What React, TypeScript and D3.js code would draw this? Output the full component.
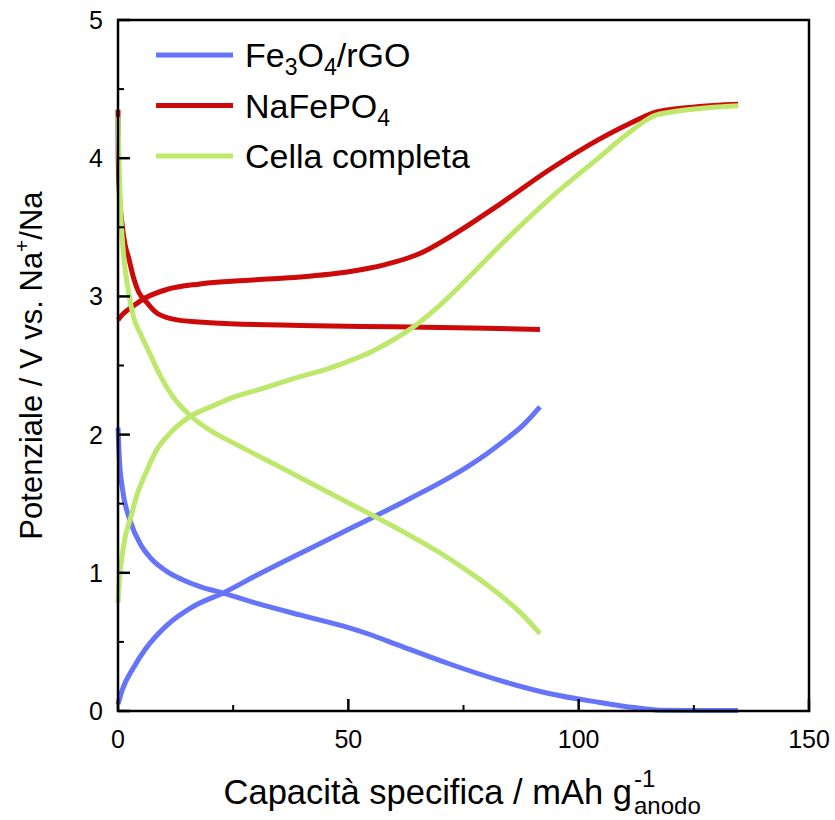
import React from "react";
import * as d3 from "d3";

const W = 835, H = 820;
const X0 = 118, X1 = 809, Y0 = 711, Y1 = 20;

const xDomain = [0, 150];
const yDomain = [0, 5];
const xMajor = [0, 50, 100, 150];
const yMajor = [0, 1, 2, 3, 4, 5];
const xMinorStep = 25;
const yMinorStep = 0.5;

const seriesNames = ["Fe3O4/rGO", "NaFePO4", "Cella completa"];
const colors = ["#6574f8", "#cc0a0a", "#bde86c"];

// Fe3O4/rGO
const feDis: [number, number][] = [
  [0, 2.05], [0.3, 1.82], [1, 1.6], [2.6, 1.38], [5, 1.2], [7, 1.11], [10.6, 1.01],
  [14, 0.95], [17.8, 0.9], [23.2, 0.85], [30, 0.78], [39.5, 0.695], [45, 0.648],
  [50.4, 0.6], [55, 0.55], [61, 0.475], [72, 0.34], [83, 0.22], [93.8, 0.125],
  [104.6, 0.062], [112, 0.025], [117.6, 0.006], [125, 0.004], [134.6, 0.004],
];
const feCh: [number, number][] = [
  [0, 0.05], [1, 0.16], [3.3, 0.31], [6, 0.45], [10.6, 0.62], [16, 0.75], [23.2, 0.86],
  [30, 0.98], [39.5, 1.14], [50.4, 1.32], [61.2, 1.5], [72, 1.69], [76, 1.77],
  [80, 1.86], [84, 1.96], [88, 2.07], [91.6, 2.2],
];
// NaFePO4
const nfpCh: [number, number][] = [
  [0, 2.83], [1, 2.87], [3.3, 2.93], [6, 2.99], [10.6, 3.05], [17.8, 3.09], [30, 3.12],
  [39.5, 3.14], [50.4, 3.18], [58, 3.23], [65.5, 3.31], [72, 3.43], [83, 3.67],
  [93.8, 3.92], [104.6, 4.14], [111, 4.25], [117.6, 4.34], [134.6, 4.39],
];
const nfpDis: [number, number][] = [
  [0, 4.35], [0.05, 4.0], [0.3, 3.75], [0.8, 3.55], [1.5, 3.38], [2.3, 3.28], [3.5, 3.12],
  [4.5, 3.03], [5.9, 2.97], [8.4, 2.88], [12.8, 2.83], [20, 2.81], [39.5, 2.79],
  [60, 2.78], [80, 2.77], [91.6, 2.76],
];
// Cella completa
const cellCh: [number, number][] = [
  [0, 0.78], [0.3, 0.95], [0.8, 1.1], [1.5, 1.25], [2.6, 1.38], [4, 1.55], [6, 1.72],
  [8.4, 1.89], [11, 2.0], [15.6, 2.13], [20, 2.2], [25, 2.27], [32, 2.34], [39.5, 2.42],
  [45, 2.47], [50.4, 2.535], [55, 2.6], [60, 2.69], [65, 2.8], [70, 2.94], [75, 3.1],
  [83, 3.37], [93.8, 3.71], [104.6, 4.01], [110, 4.16], [117.6, 4.32], [134.6, 4.38],
];
const cellDis: [number, number][] = [
  [0, 4.3], [0.2, 4.0], [0.6, 3.6], [1.1, 3.34], [2.2, 3.05], [3.3, 2.86], [5, 2.72],
  [7, 2.58], [9.1, 2.43], [12, 2.27], [15.6, 2.14], [20, 2.03], [25, 1.94], [32, 1.82],
  [39.5, 1.69], [50.4, 1.5], [61.2, 1.31], [72, 1.1], [76, 1.01], [80, 0.915],
  [84, 0.81], [88, 0.69], [91.6, 0.56],
];

const curves: { data: [number, number][]; series: number }[] = [
  { data: feDis, series: 0 },
  { data: feCh, series: 0 },
  { data: nfpCh, series: 1 },
  { data: nfpDis, series: 1 },
  { data: cellCh, series: 2 },
  { data: cellDis, series: 2 },
];

export default function App() {
  const x = d3.scaleLinear().domain(xDomain).range([X0, X1]);
  const y = d3.scaleLinear().domain(yDomain).range([Y0, Y1]);
  const line = d3
    .line<[number, number]>()
    .x((d) => x(d[0]))
    .y((d) => y(d[1]))
    .curve(d3.curveMonotoneX);

  const xMinor = d3.range(xDomain[0], xDomain[1] + 0.001, xMinorStep).filter((v) => !xMajor.includes(v));
  const yMinor = d3.range(yDomain[0], yDomain[1] + 0.001, yMinorStep).filter((v) => !yMajor.includes(v));
  const font = "Liberation Sans, Arial, sans-serif";

  return (
    <svg width={W} height={H} style={{ position: "absolute", left: 0, top: 0, background: "#fff" }} fontFamily={font}>
      {curves.map((c, i) => (
        <path key={i} d={line(c.data) || ""} fill="none" stroke={colors[c.series]} strokeWidth={5} strokeLinejoin="round" />
      ))}
      {/* frame */}
      <rect x={X0} y={Y1} width={X1 - X0} height={Y0 - Y1} fill="none" stroke="#000" strokeWidth={2.5} />
      {/* ticks */}
      {xMajor.map((v) => (
        <line key={"xM" + v} x1={x(v)} x2={x(v)} y1={Y0} y2={Y0 - 12} stroke="#000" strokeWidth={2.5} />
      ))}
      {xMinor.map((v) => (
        <line key={"xm" + v} x1={x(v)} x2={x(v)} y1={Y0} y2={Y0 - 6} stroke="#000" strokeWidth={2} />
      ))}
      {yMajor.map((v) => (
        <line key={"yM" + v} x1={X0} x2={X0 + 12} y1={y(v)} y2={y(v)} stroke="#000" strokeWidth={2.5} />
      ))}
      {yMinor.map((v) => (
        <line key={"ym" + v} x1={X0} x2={X0 + 6} y1={y(v)} y2={y(v)} stroke="#000" strokeWidth={2} />
      ))}
      {/* tick labels */}
      {xMajor.map((v) => (
        <text key={"xl" + v} x={x(v)} y={748} fontSize={25} textAnchor="middle" fill="#000">{v}</text>
      ))}
      {yMajor.map((v) => (
        <text key={"yl" + v} x={103} y={y(v) + 9} fontSize={25} textAnchor="end" fill="#000">{v}</text>
      ))}
      {/* axis titles */}
      <text transform={`translate(42,${(Y0 + Y1) / 2}) rotate(-90)`} textAnchor="middle" fontSize={31} fill="#000">
        Potenziale / V vs. Na<tspan dy={-13} fontSize={21}>+</tspan><tspan dy={13}>/Na</tspan>
      </text>
      <text x={632} y={804} textAnchor="end" fontSize={34.5} fill="#000">Capacità specifica / mAh g</text>
      <text x={634} y={787} fontSize={24} fill="#000">-1</text>
      <text x={634} y={814} fontSize={24} fill="#000">anodo</text>
      {/* legend */}
      {seriesNames.map((n, i) => {
        const ly = 55 + i * 50.5;
        return (
          <g key={n}>
            <line x1={156} x2={233} y1={ly} y2={ly} stroke={colors[i]} strokeWidth={5} />
            <text x={245} y={ly + 12} fontSize={34} fill="#000">
              {i === 0 ? (
                <>Fe<tspan dy={8} fontSize={23}>3</tspan><tspan dy={-8}>O</tspan><tspan dy={8} fontSize={23}>4</tspan><tspan dy={-8}>/rGO</tspan></>
              ) : i === 1 ? (
                <>NaFePO<tspan dy={8} fontSize={23}>4</tspan></>
              ) : (
                n
              )}
            </text>
          </g>
        );
      })}
    </svg>
  );
}
